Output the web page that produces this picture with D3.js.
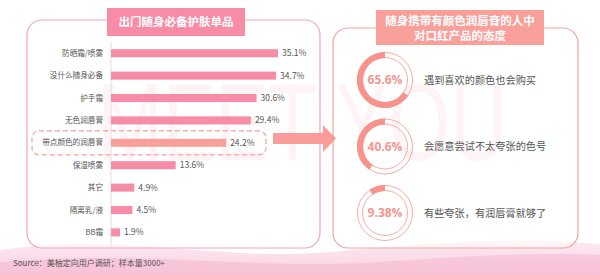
<!DOCTYPE html>
<html>
<head>
<meta charset="utf-8">
<style>
  body { margin: 0; background: #fff; font-family: "Noto Sans CJK SC", "Noto Sans", sans-serif; }
  svg { display: block; }
</style>
</head>
<body>
<script src="https://cdn.jsdelivr.net/npm/d3@7"></script>
<script>

// left chart: items carried when going out
var items = ["防晒霜/喷雾", "没什么随身必备", "护手霜", "无色润唇膏", "带点颜色的润唇膏", "保湿喷雾", "其它", "隔离乳/液", "BB霜"];
var shares = [35.1, 34.7, 30.6, 29.4, 24.2, 13.6, 4.9, 4.5, 1.9];
var highlight = "带点颜色的润唇膏";

// right chart: attitude to lipstick
var attitudes = ["遇到喜欢的颜色也会购买", "会愿意尝试不太夸张的色号", "有些夸张，有润唇膏就够了"];
var attitudeShares = [65.6, 40.6, 9.38];
var attitudeLabels = ["65.6%", "40.6%", "9.38%"];

var width = 600, height = 275;

var svg = d3.select("body").append("svg")
  .attr("width", width)
  .attr("height", height);

var defs = svg.append("defs");
var grad = defs.append("linearGradient").attr("id", "wave").attr("x1", 0).attr("x2", 0).attr("y1", 0).attr("y2", 1);
grad.append("stop").attr("offset", "0%").attr("stop-color", "#fbe1ec");
grad.append("stop").attr("offset", "100%").attr("stop-color", "#f7bcd3");

// bottom waves
svg.append("path")
  .attr("d", "M0,250 C120,232 220,262 330,252 C430,243 520,236 600,244 L600,275 L0,275 Z")
  .attr("fill", "url(#wave)").attr("opacity", 0.7);
svg.append("path")
  .attr("d", "M0,262 C140,250 260,270 380,262 C470,256 540,252 600,255 L600,275 L0,275 Z")
  .attr("fill", "#f6b6cf").attr("opacity", 0.55);

// watermark
svg.append("text")
  .attr("x", 97).attr("y", 160)
  .attr("font-family", "Liberation Sans, sans-serif")
  .attr("font-size", 110)
  .attr("textLength", 410)
  .attr("lengthAdjust", "spacingAndGlyphs")
  .attr("fill", "#fce6ee")
  .text("MEET YOU");

// ---- left panel ----
svg.append("rect")
  .attr("x", 27).attr("y", 20).attr("width", 293).attr("height", 228)
  .attr("rx", 15)
  .attr("fill", "white").attr("fill-opacity", 0.55)
  .attr("stroke", "#f2a3bc").attr("stroke-width", 1.2);

svg.append("rect")
  .attr("x", 107).attr("y", 8).attr("width", 138).attr("height", 28)
  .attr("fill", "#f88ba6");
svg.append("text")
  .attr("x", 176).attr("y", 26)
  .attr("text-anchor", "middle")
  .attr("font-size", 11.5).attr("font-weight", "bold")
  .attr("fill", "white")
  .text("出门随身必备护肤单品");

var x = d3.scaleLinear().domain([0, 35.1]).range([111, 278]);
var y = d3.scaleBand().domain(items).range([42, 243.6]).paddingInner(0.64).paddingOuter(0.32);

// dashed highlight box
svg.append("rect")
  .attr("x", 32).attr("y", y(highlight) + y.bandwidth() / 2 - 12)
  .attr("width", 234).attr("height", 24)
  .attr("rx", 7)
  .attr("fill", "none")
  .attr("stroke", "#f4a09a").attr("stroke-width", 1.2)
  .attr("stroke-dasharray", "5,3");

svg.append("line")
  .attr("x1", x(0)).attr("x2", x(0))
  .attr("y1", 42).attr("y2", 248)
  .attr("stroke", "#dddddd");

var rows = svg.selectAll(".row")
  .data(items)
  .enter().append("g");

rows.append("rect")
  .attr("x", x(0))
  .attr("y", d => y(d))
  .attr("width", (d, i) => x(shares[i]) - x(0))
  .attr("height", y.bandwidth())
  .attr("fill", d => d == highlight ? "#f9a09a" : "#f78ca7");

rows.append("text")
  .attr("x", 103)
  .attr("y", d => y(d) + y.bandwidth() / 2)
  .attr("dy", "0.35em")
  .attr("text-anchor", "end")
  .attr("font-size", 7.6)
  .attr("fill", "#555")
  .text(d => d);

rows.append("text")
  .attr("x", (d, i) => x(shares[i]) + 4)
  .attr("y", d => y(d) + y.bandwidth() / 2)
  .attr("dy", "0.35em")
  .attr("font-size", 8.5)
  .attr("fill", "#555")
  .text((d, i) => shares[i].toFixed(1) + "%");

// ---- right panel ----
svg.append("rect")
  .attr("x", 333).attr("y", 28).attr("width", 245).attr("height", 220)
  .attr("rx", 15)
  .attr("fill", "white").attr("fill-opacity", 0.55)
  .attr("stroke", "#f4a29e").attr("stroke-width", 1.2);

svg.append("rect")
  .attr("x", 376).attr("y", 10).attr("width", 168).attr("height", 35)
  .attr("fill", "#f9a09b");
svg.append("text")
  .attr("x", 460).attr("y", 25)
  .attr("text-anchor", "middle")
  .attr("font-size", 11.5).attr("font-weight", "bold")
  .attr("fill", "white")
  .text("随身携带有颜色润唇膏的人中");
svg.append("text")
  .attr("x", 460).attr("y", 40)
  .attr("text-anchor", "middle")
  .attr("font-size", 11.5).attr("font-weight", "bold")
  .attr("fill", "white")
  .text("对口红产品的态度");

// arrow
svg.append("path")
  .attr("d", "M273,133 L323,133 L323,125 L336,138.5 L323,152 L323,144 L273,144 Z")
  .attr("fill", "#f9928f").attr("opacity", 0.9);

var cy = d3.scalePoint().domain(attitudes).range([80, 213]);
var cx = 385, rOut = 28, rIn = 22;
var arc = d3.arc().innerRadius(rIn).outerRadius(rOut).startAngle(0);

var donut = svg.selectAll(".donut")
  .data(attitudes)
  .enter().append("g")
  .attr("transform", d => `translate(${cx},${cy(d)})`);

donut.append("circle").attr("r", rOut - 0.5)
  .attr("fill", "none").attr("stroke", "#f6aaa5").attr("stroke-width", 1);
donut.append("circle").attr("r", rIn + 0.5)
  .attr("fill", "none").attr("stroke", "#f6aaa5").attr("stroke-width", 1);
donut.append("path")
  .attr("d", (d, i) => arc({ endAngle: -2 * Math.PI * attitudeShares[i] / 100 }))
  .attr("fill", "#f7928d");
donut.append("text")
  .attr("text-anchor", "middle")
  .attr("dy", "0.36em")
  .attr("font-family", "Open Sans, sans-serif")
  .attr("font-size", 12).attr("font-weight", "bold")
  .attr("fill", "#f59690")
  .text((d, i) => attitudeLabels[i]);

svg.selectAll(".att")
  .data(attitudes)
  .enter().append("text")
  .attr("x", 424)
  .attr("y", d => cy(d))
  .attr("dy", "0.35em")
  .attr("font-size", 10.2)
  .attr("fill", "#555")
  .text(d => d);

// source
svg.append("text")
  .attr("x", 13).attr("y", 266)
  .attr("font-size", 8)
  .attr("fill", "#555")
  .text("Source：美柚定向用户调研；样本量3000+");

</script>
</body>
</html>
